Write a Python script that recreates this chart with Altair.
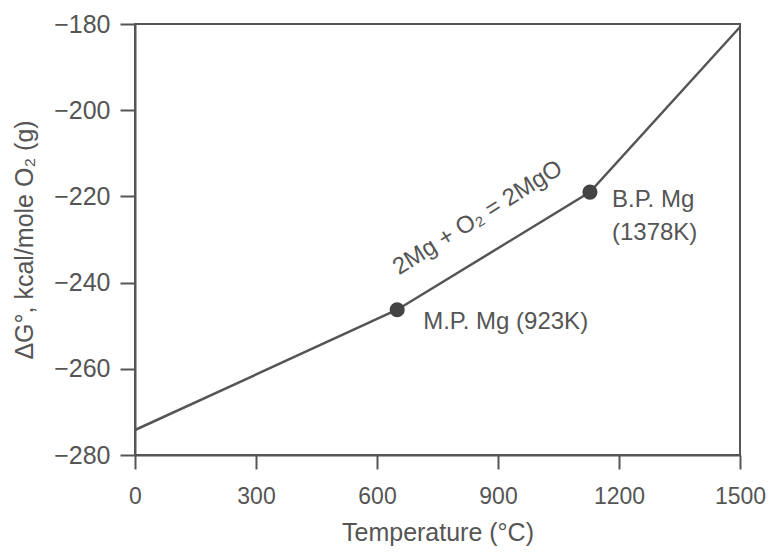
import altair as alt
import pandas as pd

# Data
temps = [0, 650, 1128, 1500]
dg = [-274.2, -246.3, -219.0, -180.7]

pt_temps = [650, 1128]
pt_dg = [-246.3, -219.0]

lbl_text = ["M.P. Mg (923K)", "B.P. Mg", "(1378K)"]
lbl_t = [650, 1128, 1128]
lbl_g = [-246.3, -219.0, -219.0]

eq_text = ["2Mg + O₂ = 2MgO"]
eq_t = [850]
eq_g = [-225.0]

x_ticks = [0, 300, 600, 900, 1200, 1500]
y_ticks = [-280, -260, -240, -220, -200, -180]

FONT = "Liberation Sans"
GREY = "#555555"

line_df = pd.DataFrame({"T": temps, "G": dg})
pt_df = pd.DataFrame({"T": pt_temps, "G": pt_dg})
lbl_df = pd.DataFrame({"T": lbl_t, "G": lbl_g, "txt": lbl_text})
eq_df = pd.DataFrame({"T": eq_t, "G": eq_g, "txt": eq_text})

xs = alt.Scale(domain=[0, 1500], nice=False, zero=False)
ys = alt.Scale(domain=[-280, -180], nice=False, zero=False)

xenc = alt.X("T:Q", scale=xs, axis=alt.Axis(
    values=x_ticks, format="d", title="Temperature (°C)", grid=False, tickSize=14,
    labelPadding=16, titlePadding=12, labelFontSize=23, titleFontSize=25,
    labelFont=FONT, titleFont=FONT, titleFontWeight="normal",
    domainColor=GREY, tickColor=GREY, labelColor=GREY, titleColor=GREY,
    domainWidth=2, tickWidth=2, labelFlush=False))
yenc = alt.Y("G:Q", scale=ys, axis=alt.Axis(
    values=y_ticks, format="d", title="ΔG°, kcal/mole O₂ (g)", grid=False, tickSize=15,
    labelPadding=10, titlePadding=16, labelFontSize=25, titleFontSize=25,
    labelFont=FONT, titleFont=FONT, titleFontWeight="normal",
    domainColor=GREY, tickColor=GREY, labelColor=GREY, titleColor=GREY,
    domainWidth=2, tickWidth=2, labelFlush=False))

line = alt.Chart(line_df).mark_line(color=GREY, strokeWidth=2.5).encode(x=xenc, y=yenc)
pts = alt.Chart(pt_df).mark_point(filled=True, size=230, color="#444444", opacity=1).encode(x="T:Q", y="G:Q")

lbl_mp = alt.Chart(lbl_df.iloc[[0]]).mark_text(align="left", baseline="middle", dx=26, dy=12,
    font=FONT, fontSize=24, color=GREY).encode(x="T:Q", y="G:Q", text="txt:N")
lbl_bp1 = alt.Chart(lbl_df.iloc[[1]]).mark_text(align="left", baseline="middle", dx=22, dy=8,
    font=FONT, fontSize=24, color=GREY).encode(x="T:Q", y="G:Q", text="txt:N")
lbl_bp2 = alt.Chart(lbl_df.iloc[[2]]).mark_text(align="left", baseline="middle", dx=22, dy=41,
    font=FONT, fontSize=24, color=GREY).encode(x="T:Q", y="G:Q", text="txt:N")
eq = alt.Chart(eq_df).mark_text(align="center", baseline="middle", angle=328,
    font=FONT, fontSize=24, color=GREY).encode(x="T:Q", y="G:Q", text="txt:N")

chart = alt.layer(line, pts, lbl_mp, lbl_bp1, lbl_bp2, eq).properties(
    width=605, height=431,
    autosize=alt.AutoSizeParams(type="none"),
    padding={"left": 127, "top": 16, "right": 27, "bottom": 96},
    background="white",
).configure_view(stroke=GREY, strokeWidth=2)

chart.save("out.html", embed_options={"renderer": "svg", "actions": False})
